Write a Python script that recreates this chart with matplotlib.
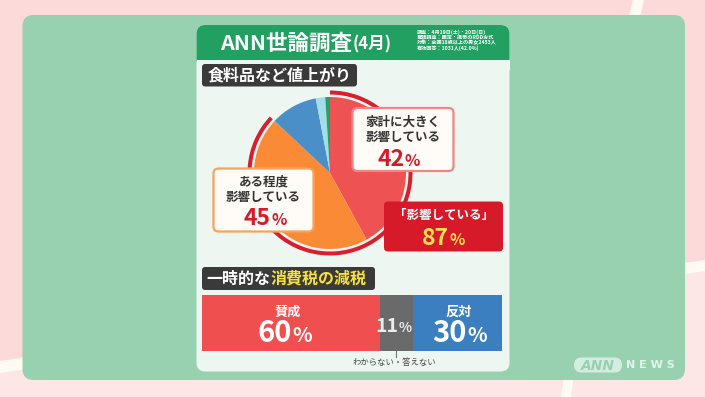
import numpy as np
import matplotlib
matplotlib.use('Agg')
import matplotlib.pyplot as plt
from matplotlib.patches import FancyBboxPatch, Rectangle, Polygon

plt.rcParams['font.family'] = ['Noto Sans CJK JP', 'DejaVu Sans']

# 食料品など値上がり
pie_labels = ['家計に大きく影響している', 'ある程度影響している', 'あまり影響していない',
              '全く影響していない', 'わからない・答えない']
pie_values = [42, 45, 10, 2, 1]
pie_colors = ['#ef5252', '#fb8a36', '#4b8fc9', '#a6dbe8', '#27a065']
affected_total = pie_values[0] + pie_values[1]  # 87

# 一時的な消費税の減税
bar_labels = ['賛成', 'わからない・答えない', '反対']
bar_values = [60, 11, 30]
bar_colors = ['#f04f50', '#6a6a6a', '#3b7fc0']

title = 'ANN世論調査'
title_month = '(4月)'
survey_notes = ['調査：4月19日(土)・20日(日)',
                '電話調査：固定・携帯のRDD方式',
                '対象：全国18歳以上の男女2453人',
                '有効回答：1031人(42.0%)']

W, H = 705, 397
fig = plt.figure(figsize=(W / 100, H / 100), dpi=100)
fig.patch.set_facecolor('#fcdada')
ax = fig.add_axes([0, 0, 1, 1])


def rbox(x0, y0, x1, y1, fc, ec='none', lw=0, r=4, z=2):
    ax.add_patch(FancyBboxPatch((x0, y0), x1 - x0, y1 - y0,
                                boxstyle=f'round,pad=0,rounding_size={r}',
                                fc=fc, ec=ec, lw=lw, zorder=z))


def pct(xs, y, num, size, color, z=6, family=None):
    kw = dict(va='baseline', color=color, fontweight='bold', zorder=z)
    if family:
        kw['family'] = family
    ax.text(xs, y, str(num), ha='right', fontsize=size, **kw)
    ax.text(xs + 0.5, y, '%', ha='left', fontsize=size * 0.7, **kw)


# background
ax.add_patch(Polygon([(0, 370), (705, 266), (705, 397), (0, 397)], closed=True,
                     fc='#fde6e6', ec='none', zorder=-5))
ax.add_patch(Polygon([(0, 361), (705, 260), (705, 271), (0, 373)], closed=True,
                     fc='#fffaf3', ec='none', zorder=-4))
ax.add_patch(Polygon([(633, 0), (644, 0), (637, 30), (626, 30)], closed=True,
                     fc='#fffaf3', ec='none', zorder=-4))
ax.add_patch(Polygon([(566, 360), (576, 360), (571, 397), (561, 397)], closed=True,
                     fc='#fffaf3', ec='none', zorder=-4))
rbox(22.5, 15, 685, 380, '#97d1b0', r=11, z=-3)

# card
rbox(196.5, 25, 509.5, 371.5, '#eef6f1', r=9, z=-2)
rbox(196.5, 25, 509.5, 68, '#22a062', r=9, z=-1)
ax.add_patch(Rectangle((196.5, 60), 313, 10, fc='#eef6f1', ec='none', zorder=-1))

ax.text(352, 43, title, ha='right', va='center', fontsize=15.5, fontweight='bold', color='white')
ax.text(353, 44, title_month, ha='left', va='center', fontsize=12, fontweight='bold', color='white')
for i, line in enumerate(survey_notes):
    ax.text(416.5, 32 + i * 5.3, line, ha='left', va='center', fontsize=3.7,
            fontweight='bold', color='white')

# section 1 label
rbox(202, 64, 357, 86.5, '#3a3a3a', r=3)
ax.text(208, 75, '食料品など値上がり', ha='left', va='center', fontsize=11.5,
        fontweight='bold', color='white', zorder=3)

# pie (y axis is inverted, so counterclock in data = clockwise on screen)
cx, cy, R = 330, 173, 76
ax.pie(pie_values, colors=pie_colors, startangle=-90, counterclock=True,
       center=(cx, cy), radius=R, frame=True, wedgeprops=dict(linewidth=0))
ax.pie([affected_total, 100 - affected_total], colors=['#d71f2d', 'none'],
       startangle=-90, counterclock=True, center=(cx, cy), radius=R + 6.5,
       frame=True, wedgeprops=dict(width=4, linewidth=0))

# callouts
rbox(352.5, 108, 453.5, 171, '#fffcf7', ec='#f08585', lw=1.6, r=5, z=4)
ax.text(403, 122, '家計に大きく', ha='center', va='center', fontsize=9, fontweight='bold', color='#333333', zorder=5)
ax.text(403, 137, '影響している', ha='center', va='center', fontsize=9, fontweight='bold', color='#333333', zorder=5)
pct(404, 165.5, pie_values[0], 16.5, '#d71a2a')

rbox(213.5, 168.5, 313.5, 231.5, '#fffcf7', ec='#f7a35a', lw=1.6, r=5, z=4)
ax.text(263.5, 182, 'ある程度', ha='center', va='center', fontsize=9, fontweight='bold', color='#333333', zorder=5)
ax.text(263.5, 197, '影響している', ha='center', va='center', fontsize=9, fontweight='bold', color='#333333', zorder=5)
pct(271, 225, pie_values[1], 16.5, '#d71a2a')

rbox(384, 201.5, 503, 251.5, '#d71a2a', r=4, z=4)
ax.text(443.5, 215, '「影響している」', ha='center', va='center', fontsize=9, fontweight='bold', color='white', zorder=5)
pct(449, 245, affected_total, 16.5, '#f8e04e')

# section 2 label
rbox(202, 267, 375, 290, '#3a3a3a', r=3)
em = 11.5 * 100 / 72
ax.text(206.5, 278.5, '一時的な', ha='left', va='center', fontsize=11.5,
        fontweight='bold', color='white', zorder=3)
ax.text(206.5 + 4 * em, 278.5, '消費税の減税', ha='left', va='center', fontsize=11.5,
        fontweight='bold', color='#f7e23c', zorder=3)

# stacked bar
bx0, bx1, by, bh = 202, 501.7, 322.9, 55.7
scale = (bx1 - bx0) / sum(bar_values)
widths = np.array(bar_values) * scale
lefts = bx0 + np.concatenate([[0], np.cumsum(widths)[:-1]])
ax.barh([by] * len(bar_values), widths, left=lefts, height=bh, color=bar_colors,
        linewidth=0, zorder=2)
mids = lefts + widths / 2

ax.text(mids[0] - 3, 312, bar_labels[0], ha='center', va='center', fontsize=9.5,
        fontweight='bold', color='white', zorder=3)
pct(292, 342.5, bar_values[0], 21, 'white', z=3)
ax.text(mids[2] + 2, 312, bar_labels[2], ha='center', va='center', fontsize=9.5,
        fontweight='bold', color='white', zorder=3)
pct(467, 342.5, bar_values[2], 21, 'white', z=3)
pct(398.5, 331.5, bar_values[1], 14, '#ececec', z=3,
    family=['Liberation Sans Narrow', 'Noto Sans CJK JP'])

ax.plot([mids[1], mids[1]], [by + bh / 2, by + bh / 2 + 6], color='#777777', lw=0.8, zorder=3)
ax.text(mids[1] - 2, 362, bar_labels[1], ha='center', va='center', fontsize=6,
        color='#444444', zorder=3)

# ANN NEWS logo
rbox(574, 357.5, 622, 372.5, '#d3ede0', r=7.5, z=1)
ax.text(598, 365.5, 'ANN', ha='center', va='center', fontsize=10, fontweight='bold',
        fontstyle='italic', family='DejaVu Sans', color='#97d1b0', zorder=2)
ax.text(626, 365.5, 'N E W S', ha='left', va='center', fontsize=8, fontweight='bold',
        family='DejaVu Sans', color='#e2f3ea', zorder=2)

ax.set_xlim(0, W)
ax.set_ylim(H, 0)
ax.set_aspect('auto')
ax.axis('off')

fig.savefig('out.png', dpi=100, facecolor=fig.get_facecolor())
